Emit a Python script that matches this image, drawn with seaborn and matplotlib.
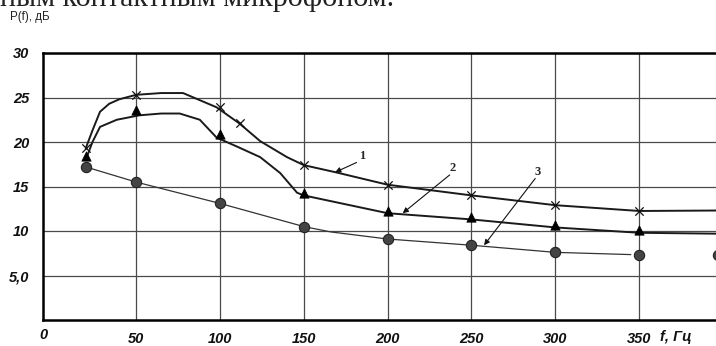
# P(f) curves - contact microphone, three cases

import matplotlib
matplotlib.use("Agg")

import numpy as np
import matplotlib.pyplot as plt
import seaborn as sns

# =========================================================
# DATA
# =========================================================

# curve 1 (x markers)
f1_mark = [20, 50, 100, 112, 150, 200, 250, 300, 350]
p1_mark = [19.3, 25.3, 23.9, 22.1, 17.4, 15.2, 14.0, 12.9, 12.25]
f1_line = [20, 24, 28.5, 34, 40, 50, 65, 78, 88, 98, 111.5, 124, 140, 150, 169, 200, 250, 300, 350, 396]
p1_line = [19.3, 21.3, 23.4, 24.3, 24.8, 25.3, 25.5, 25.5, 24.7, 23.9, 22.1, 20.1, 18.3, 17.4, 16.6, 15.2, 14.0, 12.9, 12.25, 12.3]

# curve 2 (triangles)
f2_mark = [20, 50, 100, 150, 200, 250, 300, 350]
p2_mark = [18.4, 23.6, 20.9, 14.3, 12.3, 11.6, 10.7, 10.1]
f2_line = [20, 24, 28.5, 38.5, 52, 65, 76, 88, 98, 110, 124, 136, 146, 150, 200, 250, 300, 350, 396]
p2_line = [18.0, 20.0, 21.7, 22.5, 23.0, 23.2, 23.2, 22.5, 20.5, 19.5, 18.3, 16.5, 14.3, 14.0, 12.0, 11.3, 10.4, 9.8, 9.7]

# curve 3 (circles)
f3_mark = [20, 50, 100, 150, 200, 250, 300, 350, 397]
p3_mark = [17.2, 15.5, 13.1, 10.5, 9.1, 8.4, 7.6, 7.3, 7.3]
f3_line = [20, 50, 100, 150, 166, 200, 250, 300, 345]
p3_line = [17.2, 15.5, 13.1, 10.5, 9.9, 9.1, 8.4, 7.6, 7.35]

x_ticks = [50, 100, 150, 200, 250, 300, 350]
y_ticks = [5, 10, 15, 20, 25, 30]
y_labels = ["5,0", "10", "15", "20", "25", "30"]

# =========================================================
# FIGURE
# =========================================================

sns.set_style("white")
plt.rcParams['font.family'] = ['Liberation Sans', 'DejaVu Sans']

fig = plt.figure(figsize=(7.16, 3.46), dpi=100)
ax = fig.add_axes([43 / 716, 26 / 346, 1 - 43 / 716, 267 / 346])

# lines
sns.lineplot(x=f1_line, y=p1_line, ax=ax, color="#1a1a1a", lw=1.4, sort=False, estimator=None)
sns.lineplot(x=f2_line, y=p2_line, ax=ax, color="#1a1a1a", lw=1.4, sort=False, estimator=None)
sns.lineplot(x=f3_line, y=p3_line, ax=ax, color="#333333", lw=0.9, sort=False, estimator=None)

# markers
sns.scatterplot(x=f1_mark, y=p1_mark, ax=ax, marker="x", s=36, color="#111111", linewidth=0.9, zorder=4)
sns.scatterplot(x=f2_mark, y=p2_mark, ax=ax, marker="^", s=45, color="#000000", edgecolor="#000000", zorder=4)
sns.scatterplot(x=f3_mark, y=p3_mark, ax=ax, marker="o", s=55, color="#444444", edgecolor="#222222", linewidth=0.8, zorder=4, clip_on=True)

# =========================================================
# AXES
# =========================================================

ax.set_xlim(-5.5, 395.8)
ax.set_ylim(0, 30)

ax.set_xticks(x_ticks)
ax.set_xticklabels([str(v) for v in x_ticks])
ax.set_yticks(y_ticks)
ax.set_yticklabels(y_labels)

ax.tick_params(axis="both", length=0)
ax.tick_params(axis="x", pad=8.5)
ax.tick_params(axis="y", pad=10)

for lab in ax.get_xticklabels() + ax.get_yticklabels():
    lab.set_fontweight("bold")
    lab.set_fontstyle("italic")
    lab.set_fontsize(10.5)
    lab.set_color("#111111")

ax.grid(True, color="#4a4a4a", lw=0.9)
ax.set_axisbelow(True)

for side in ["left", "bottom", "top"]:
    ax.spines[side].set_color("#000000")
    ax.spines[side].set_linewidth(1.8)
ax.spines["right"].set_visible(False)

ax.set_xlabel("")
ax.set_ylabel("")

# =========================================================
# CALLOUTS 1, 2, 3
# =========================================================

callouts = [
    ("1", (184.7, 18.4), (181.5, 17.7), (168.7, 16.6)),
    ("2", (239.0, 17.1), (237.0, 16.3), (209.0, 12.0)),
    ("3", (289.7, 16.6), (288.0, 15.9), (257.5, 8.4)),
]

for txt, pos, start, end in callouts:
    ax.text(pos[0], pos[1], txt, fontsize=9, fontweight="bold",
            family=["Liberation Serif", "DejaVu Serif"], ha="center", va="center")
    ax.annotate("", xy=end, xytext=start,
                arrowprops=dict(arrowstyle="-|>", color="#111111", lw=0.8,
                                mutation_scale=8, shrinkA=0, shrinkB=0))

# =========================================================
# FIGURE TEXT
# =========================================================

fig.text(43 / 716, 1 - 335 / 346, "0", fontsize=10.5, fontweight="bold",
         fontstyle="italic", ha="center", va="center", color="#111111")

fig.text(660 / 716, 1 - 337 / 346, "f, Гц", fontsize=10.5, fontweight="bold",
         fontstyle="italic", ha="left", va="center", color="#111111")

fig.text(10 / 716, 1 - 17 / 346, "P(f), дБ", fontsize=8.3, ha="left", va="center",
         color="#222222")

fig.text(0, 1 - 6 / 346, "ным контактным микрофоном.", fontsize=21.6,
         family=["Liberation Serif", "DejaVu Serif"], ha="left", va="baseline",
         color="#222222")

plt.savefig("out.png", dpi=100)
